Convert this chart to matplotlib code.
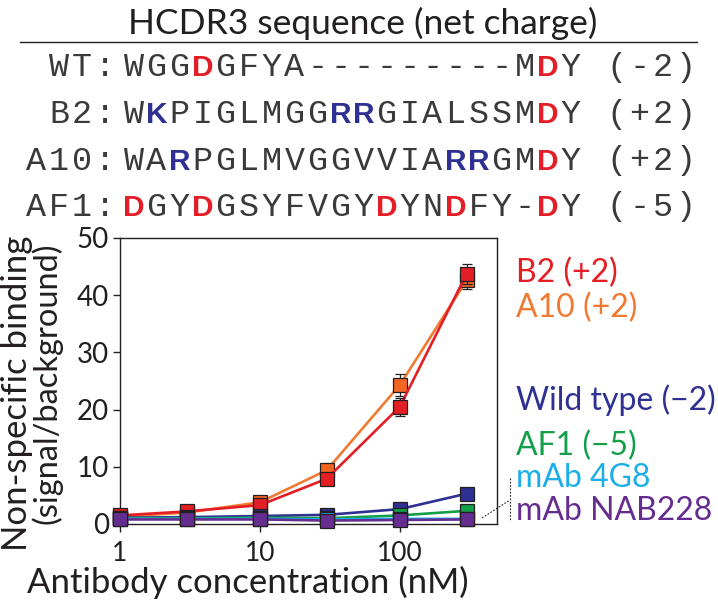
import matplotlib
matplotlib.use("Agg")
import matplotlib.pyplot as plt
from matplotlib.ticker import FixedLocator, NullLocator, FixedFormatter

# ---------------- data ----------------
conc = [1, 3, 10, 30, 100, 300]
b2 = [1.5, 2.2, 3.3, 7.9, 20.5, 43.7]
b2_err = [0.2, 0.3, 0.4, 0.6, 1.6, 1.8]
a10 = [1.3, 2.0, 3.8, 9.4, 24.3, 42.6]
a10_err = [0.2, 0.3, 0.4, 0.6, 1.9, 1.6]
wt = [1.1, 1.2, 1.4, 1.6, 2.6, 5.3]
af1 = [1.0, 1.0, 1.1, 1.0, 1.5, 2.3]
mab4g8 = [0.9, 0.9, 0.9, 0.8, 0.9, 0.9]
nab228 = [0.8, 0.8, 0.8, 0.6, 0.7, 0.8]

series_names = ["B2 (+2)", "A10 (+2)", "Wild type (\u22122)", "AF1 (\u22125)", "mAb 4G8", "mAb NAB228"]
x_ticks = [1, 10, 100]
x_ticklabels = ["1", "10", "100"]
y_ticks = [0, 10, 20, 30, 40, 50]

seq_labels = ["WT:", "B2:", "A10:", "AF1:"]
seq_strings = ["WGGDGFYA---------MDY", "WKPIGLMGGRRGIALSSMDY",
               "WARPGLMVGGVVIARRGMDY", "DGYDGSYFVGYDYNDFY-DY"]
seq_charges = ["(-2)", "(+2)", "(+2)", "(-5)"]

RED = "#E31E24"
ORANGE = "#F07A31"
NAVY = "#2E3192"
GREEN = "#14A04A"
LBLUE = "#1BAEE8"
PURPLE = "#662D91"
SEQ_RED = "#E41E26"
SEQ_BLUE = "#2E3192"
INK = "#231F20"

SANS = ["Lato", "DejaVu Sans"]
MONO = ["Liberation Mono", "DejaVu Sans Mono"]

fig = plt.figure(figsize=(7.18, 6.02), dpi=100)
ax = fig.add_axes([120 / 718, 1 - 524 / 602, (497 - 120) / 718, (524 - 238) / 602])

ys_list = [a10, b2, wt, af1, mab4g8, nab228]
cols = [ORANGE, RED, NAVY, GREEN, LBLUE, PURPLE]
errs = [a10_err, b2_err, None, None, None, None]
mfc = ["#F26522", RED, NAVY, GREEN, LBLUE, PURPLE]
for i, (ys, c, e, fc) in enumerate(zip(ys_list, cols, errs, mfc)):
    ax.plot(conc, ys, color=c, lw=1.9, zorder=2 + i, clip_on=False)
    if e is not None:
        ax.errorbar(conc, ys, yerr=e, fmt="none", ecolor=INK, elinewidth=0.9,
                    capsize=3.5, capthick=0.9, zorder=2 + i, clip_on=False)
    ax.plot(conc, ys, ls="none", marker="s", ms=10, mfc=fc, mec=INK, mew=0.9,
            zorder=2.5 + i, clip_on=False)

ax.set_xscale("log")
ax.set_xlim(1, 495)
ax.set_ylim(0, 50)
ax.xaxis.set_major_locator(FixedLocator(x_ticks))
ax.xaxis.set_major_formatter(FixedFormatter(x_ticklabels))
ax.xaxis.set_minor_locator(NullLocator())
ax.set_yticks(y_ticks)
for s in ax.spines.values():
    s.set_linewidth(1.0)
    s.set_color(INK)
ax.tick_params(axis="y", direction="out", length=5, width=1, labelsize=20, pad=3,
               colors=INK)
ax.tick_params(axis="x", direction="out", length=6, width=1, labelsize=19, pad=6,
               colors=INK)
for lab in ax.get_xticklabels() + ax.get_yticklabels():
    lab.set_fontfamily(SANS)

# ---------------- overlay in pixel coordinates ----------------
ov = fig.add_axes([0, 0, 1, 1], zorder=10)
ov.set_xlim(0, 718)
ov.set_ylim(602, 0)
ov.axis("off")
ov.patch.set_visible(False)

ov.text(363, 34, "HCDR3 sequence (net charge)", family=SANS, fontsize=25.5,
        ha="center", va="baseline", color=INK)
ov.plot([20, 697], [42, 42], color=INK, lw=1.0)

cw = 23.0
seq_x0 = 122.0
colon_cx = 105.0
baselines = [76, 123, 169.5, 215.5]
MONO_SIZE = 24
for r in range(4):
    y = baselines[r]
    lab = seq_labels[r]
    for j, ch in enumerate(reversed(lab)):
        ov.text(colon_cx - j * cw, y, ch, family=MONO, fontsize=MONO_SIZE,
                ha="center", va="baseline", color="#3A3A3A")
    tail = seq_strings[r] + " " + seq_charges[r]
    for i, ch in enumerate(tail):
        if ch == " ":
            continue
        cx = seq_x0 + cw * (i + 0.5)
        if i < 20 and ch in "DKR":
            col = SEQ_RED if ch == "D" else SEQ_BLUE
            ov.text(cx, y, ch, family=["Liberation Sans", "DejaVu Sans"],
                    fontweight="bold", fontsize=21.5, ha="center", va="baseline", color=col)
        else:
            ov.text(cx, y, ch, family=MONO, fontsize=MONO_SIZE,
                    ha="center", va="baseline", color="#3A3A3A")

# series labels
leg_y = [282, 317, 410, 455, 487, 520]
leg_c = [RED, ORANGE, NAVY, GREEN, LBLUE, PURPLE]
for name, y, c in zip(series_names, leg_y, leg_c):
    ov.text(516, y, name, family=SANS, fontsize=23, ha="left", va="baseline", color=c)

# dotted connectors
ov.plot([510, 510], [478, 520], color=INK, lw=0.8, ls=(0, (1.5, 1.5)))
ov.plot([482, 510], [518, 500], color=INK, lw=0.8, ls=(0, (1.5, 1.5)))

# axis labels
ov.text(27, 393, "Non-specific binding", family=SANS, fontsize=25, rotation=90,
        ha="center", va="baseline", rotation_mode="anchor", color=INK)
ov.text(57, 383, "(signal/background)", family=SANS, fontsize=23.5, rotation=90,
        ha="center", va="baseline", rotation_mode="anchor", color=INK)
ov.text(248, 593, "Antibody concentration (nM)", family=SANS, fontsize=25,
        ha="center", va="baseline", color=INK)

fig.savefig("out.png", dpi=100)
